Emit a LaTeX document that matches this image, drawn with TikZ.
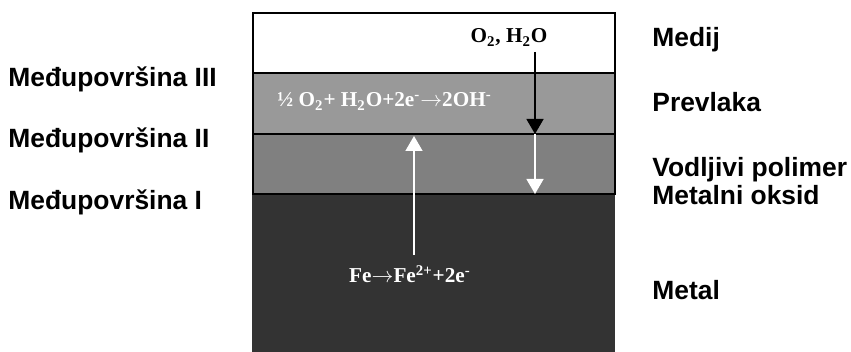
\documentclass[tikz,border=0pt]{standalone}
\usepackage{fontspec}
\setmainfont{Liberation Serif}
\newfontfamily\arialfont{Liberation Sans}
\usetikzlibrary{arrows.meta}
\definecolor{prevlakagray}{gray}{0.6}
\definecolor{polimergray}{gray}{0.5}
\definecolor{metalgray}{gray}{0.2}

\begin{document}
\begin{tikzpicture}[x=0.5pt,y=0.5pt]
		\tikzstyle{every node}+=[inner sep=0pt]
		\tikzstyle{lbl}=[font=\arialfont\bfseries\fontsize{13.2}{15}\selectfont, anchor=base west]
		\tikzstyle{eq}=[font=\bfseries\fontsize{10.6}{12}\selectfont]
		\tikzstyle{tip}=[line width=0.75pt, -{Triangle[length=7.5pt,width=8.5pt]}]
		\useasboundingbox (0,0) rectangle (851,352);
		% slojevi
		\fill [metalgray] (252,0) rectangle (615,158);
		\draw [line width=0.75pt, fill=white] (253,279) rectangle (615,339);
		\draw [line width=0.75pt, fill=prevlakagray] (253,218) rectangle (615,279);
		\draw [line width=0.75pt, fill=polimergray] (253,158) rectangle (615,218);
		% reakcije
		\node [eq, anchor=base] (kisik) at (509,309) {O\textsubscript{2}, H\textsubscript{2}O};
		\node [eq, anchor=base west, text=white] (katoda) at (277,245) {½ O\textsubscript{2}+ H\textsubscript{2}O+2e\textsuperscript{-}$\rightarrow$2OH\textsuperscript{-}};
		\node [eq, anchor=base, text=white] (anoda) at (410,69) {Fe$\rightarrow$Fe\textsuperscript{2+}+2e\textsuperscript{-}};
		% strelice
		\coordinate (ulaz) at (535,300);
		\coordinate (granica2) at (535,218);
		\coordinate (granica1) at (535,158);
		\coordinate (fepoc) at (414,97);
		\coordinate (fekraj) at (414,216);
		\draw [tip, black] (ulaz) -- (granica2);
		\draw [tip, white, fill=white] (granica2) -- (granica1);
		\draw [tip, white, fill=white] (fepoc) -- (fekraj);
		% oznake lijevo
		\node [lbl] (mp3) at (8,265) {Međupovršina III};
		\node [lbl] (mp2) at (8,204) {Međupovršina II};
		\node [lbl] (mp1) at (8,142) {Međupovršina I};
		% oznake desno
		\node [lbl] (medij) at (652,305) {Medij};
		\node [lbl] (prevlaka) at (652,240) {Prevlaka};
		\node [lbl] (polimer) at (652,175) {Vodljivi polimer};
		\node [lbl] (oksid) at (652,147) {Metalni oksid};
		\node [lbl] (metal) at (652,52) {Metal};
	\end{tikzpicture}
\end{document}
